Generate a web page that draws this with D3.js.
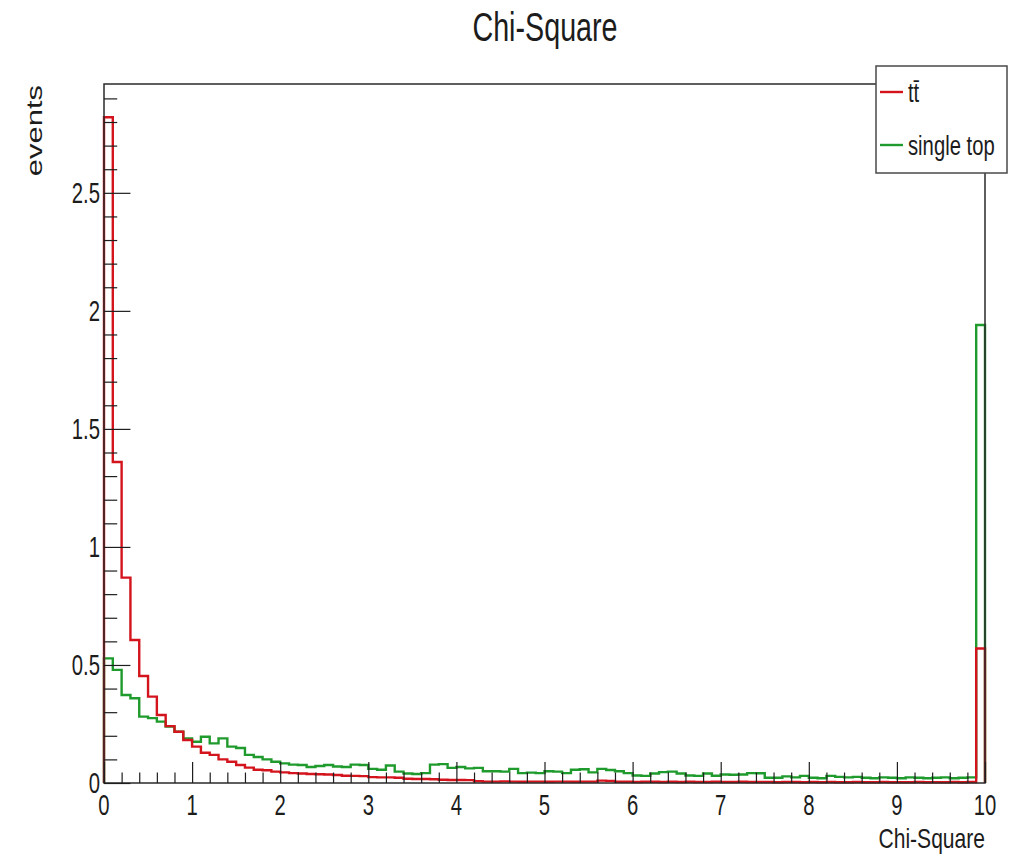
<!DOCTYPE html>
<html>
<head>
<meta charset="utf-8">
<script src="https://cdn.jsdelivr.net/npm/d3@7"></script>
<style>
  body { margin: 0; background: #ffffff; }
  svg { display: block; }
  text { font-family: "Liberation Sans", Arial, Helvetica, sans-serif; fill: #1c1c1c; }
</style>
</head>
<body>
<svg id="chart" width="1015" height="855"></svg>
<script>
// Histogram range: 100 bins of width 0.1 on [0, 10]
const xMin = 0, xMax = 10, nBins = 100;

// Bin contents, t-tbar sample
const ttbar = [
  2.82, 1.36, 0.87, 0.606, 0.453, 0.366, 0.288, 0.241, 0.217, 0.182,
  0.154, 0.128, 0.119, 0.100, 0.090, 0.076, 0.065, 0.056, 0.054, 0.048,
  0.045, 0.042, 0.040, 0.038, 0.037, 0.036, 0.034, 0.031, 0.030, 0.029,
  0.025, 0.024, 0.024, 0.022, 0.018, 0.017, 0.017, 0.016, 0.014, 0.013,
  0.013, 0.012, 0.008, 0.006, 0.006, 0.007, 0.006, 0.005, 0.006, 0.006,
  0.005, 0.006, 0.006, 0.005, 0.006, 0.006, 0.010, 0.009, 0.005, 0.005,
  0.004, 0.005, 0.005, 0.004, 0.005, 0.004, 0.005, 0.004, 0.004, 0.005,
  0.004, 0.004, 0.005, 0.004, 0.004, 0.004, 0.003, 0.004, 0.004, 0.003,
  0.004, 0.003, 0.004, 0.003, 0.003, 0.004, 0.003, 0.003, 0.004, 0.003,
  0.003, 0.003, 0.004, 0.003, 0.003, 0.003, 0.004, 0.003, 0.004, 0.57
];

// Bin contents, single-top sample
const singleTop = [
  0.528, 0.479, 0.373, 0.359, 0.281, 0.275, 0.260, 0.239, 0.217, 0.189,
  0.175, 0.196, 0.168, 0.189, 0.154, 0.148, 0.119, 0.110, 0.100, 0.090,
  0.083, 0.078, 0.076, 0.068, 0.072, 0.076, 0.070, 0.068, 0.078, 0.076,
  0.060, 0.056, 0.074, 0.048, 0.040, 0.038, 0.042, 0.078, 0.080, 0.064,
  0.068, 0.062, 0.064, 0.050, 0.050, 0.048, 0.060, 0.042, 0.044, 0.042,
  0.050, 0.048, 0.042, 0.056, 0.058, 0.045, 0.060, 0.055, 0.050, 0.042,
  0.032, 0.030, 0.040, 0.046, 0.048, 0.040, 0.032, 0.030, 0.040, 0.031,
  0.036, 0.035, 0.036, 0.042, 0.041, 0.022, 0.022, 0.028, 0.024, 0.030,
  0.022, 0.020, 0.030, 0.026, 0.024, 0.026, 0.022, 0.020, 0.024, 0.022,
  0.020, 0.024, 0.022, 0.020, 0.022, 0.024, 0.020, 0.022, 0.024, 1.94
];

const seriesNames = ["t\u0074\u0304", "single top"];
const seriesColors = ["#d3141c", "#1f9a2c"];

const xTickValues = [0, 1, 2, 3, 4, 5, 6, 7, 8, 9, 10];
const xTickLabels = ["0", "1", "2", "3", "4", "5", "6", "7", "8", "9", "10"];
const yTickValues = [0, 0.5, 1, 1.5, 2, 2.5];
const yTickLabels = ["0", "0.5", "1", "1.5", "2", "2.5"];

const titleText = "Chi-Square";
const xTitle = "Chi-Square";
const yTitle = "events";

// ---- layout ----
const frame = { left: 104, right: 985, top: 84, bottom: 783 };
const yMax = 1.05 * d3.max([...ttbar, ...singleTop]);
const squeeze = 0.7;        // narrow glyphs (condensed look)
const labelSize = 29;

const svg = d3.select("#chart");

const x = d3.scaleLinear().domain([xMin, xMax]).range([frame.left, frame.right]);
const y = d3.scaleLinear().domain([0, yMax]).range([frame.bottom, frame.top]);

const binWidth = (xMax - xMin) / nBins;
const edges = d3.range(nBins + 1).map(i => xMin + i * binWidth);

// Outline of a histogram as a step path, closed down to zero at both ends
function stepPoints(values) {
  const pts = [[edges[0], 0]];
  values.forEach((v, i) => {
    pts.push([edges[i], v]);
    pts.push([edges[i + 1], v]);
  });
  pts.push([edges[nBins], 0]);
  return pts;
}
const line = d3.line().x(d => x(d[0])).y(d => y(d[1]));

// frame background
svg.append("rect")
  .attr("x", frame.left).attr("y", frame.top)
  .attr("width", frame.right - frame.left).attr("height", frame.bottom - frame.top)
  .attr("fill", "#ffffff");

// histograms: single top underneath, t-tbar on top
[[singleTop, seriesColors[1]], [ttbar, seriesColors[0]]].forEach(([vals, col]) => {
  svg.append("path")
    .attr("d", line(stepPoints(vals)))
    .attr("fill", "none")
    .attr("stroke", col)
    .attr("stroke-width", 2.4)
    .attr("stroke-linejoin", "miter");
});

// frame border
svg.append("rect")
  .attr("x", frame.left).attr("y", frame.top)
  .attr("width", frame.right - frame.left).attr("height", frame.bottom - frame.top)
  .attr("fill", "none")
  .attr("stroke", "#2a2a2a")
  .attr("stroke-width", 1.5);

// ---- axes: ticks pointing inwards ----
const yMinor = d3.range(0, yMax, 0.1).map(v => +v.toFixed(2))
  .filter(v => !yTickValues.some(t => Math.abs(t - v) < 1e-6));
const xMinor = d3.range(0, xMax + 1e-9, 0.2).map(v => +v.toFixed(2))
  .filter(v => !xTickValues.some(t => Math.abs(t - v) < 1e-6));

function styleAxis(g) {
  g.select(".domain").remove();
  g.selectAll(".tick line").attr("stroke", "#1e1e1e").attr("stroke-width", 1.2);
  g.selectAll(".tick text").remove();
}

const yLen = 0.03 * (frame.right - frame.left);
const xLen = 0.03 * (frame.bottom - frame.top);

svg.append("g").attr("transform", `translate(${frame.left},0)`)
  .call(d3.axisLeft(y).tickValues(yTickValues).tickSizeInner(-yLen).tickSizeOuter(0))
  .call(styleAxis);
svg.append("g").attr("transform", `translate(${frame.left},0)`)
  .call(d3.axisLeft(y).tickValues(yMinor).tickSizeInner(-yLen / 2).tickSizeOuter(0))
  .call(styleAxis);
svg.append("g").attr("transform", `translate(0,${frame.bottom})`)
  .call(d3.axisBottom(x).tickValues(xTickValues).tickSizeInner(-xLen).tickSizeOuter(0))
  .call(styleAxis);
svg.append("g").attr("transform", `translate(0,${frame.bottom})`)
  .call(d3.axisBottom(x).tickValues(xMinor).tickSizeInner(-xLen / 2).tickSizeOuter(0))
  .call(styleAxis);

// condensed text helper
function label(txt, px, py, size, anchor, sx) {
  return svg.append("text")
    .attr("transform", `translate(${px},${py}) scale(${sx},1)`)
    .attr("text-anchor", anchor)
    .attr("font-size", size)
    .text(txt);
}

// tick labels
yTickValues.forEach((v, i) => {
  label(yTickLabels[i], frame.left - 4, y(v) + 0.36 * labelSize, labelSize, "end", squeeze);
});
xTickValues.forEach((v, i) => {
  label(xTickLabels[i], x(v), frame.bottom + 32, labelSize, "middle", squeeze);
});

// titles
label(titleText, 545, 41, 41, "middle", squeeze);
label(xTitle, frame.right, 848, 27, "end", 0.78);
svg.append("text")
  .attr("transform", `translate(42,${frame.top + 1}) rotate(-90) scale(1,${squeeze})`)
  .attr("text-anchor", "end")
  .attr("font-size", 31)
  .text(yTitle);

// ---- legend ----
const leg = { x0: 876, x1: 1007, y0: 66, y1: 173 };
svg.append("rect")
  .attr("x", leg.x0).attr("y", leg.y0)
  .attr("width", leg.x1 - leg.x0).attr("height", leg.y1 - leg.y0)
  .attr("fill", "#ffffff")
  .attr("stroke", "#4a4a4a")
  .attr("stroke-width", 1.5);

const legRows = [92, 145];
seriesNames.forEach((name, i) => {
  svg.append("line")
    .attr("x1", 880).attr("x2", 903)
    .attr("y1", legRows[i]).attr("y2", legRows[i])
    .attr("stroke", seriesColors[i]).attr("stroke-width", 2.4);
  label(name, 908, legRows[i] + 10, 27, "start", 0.75);
});
</script>
</body>
</html>
